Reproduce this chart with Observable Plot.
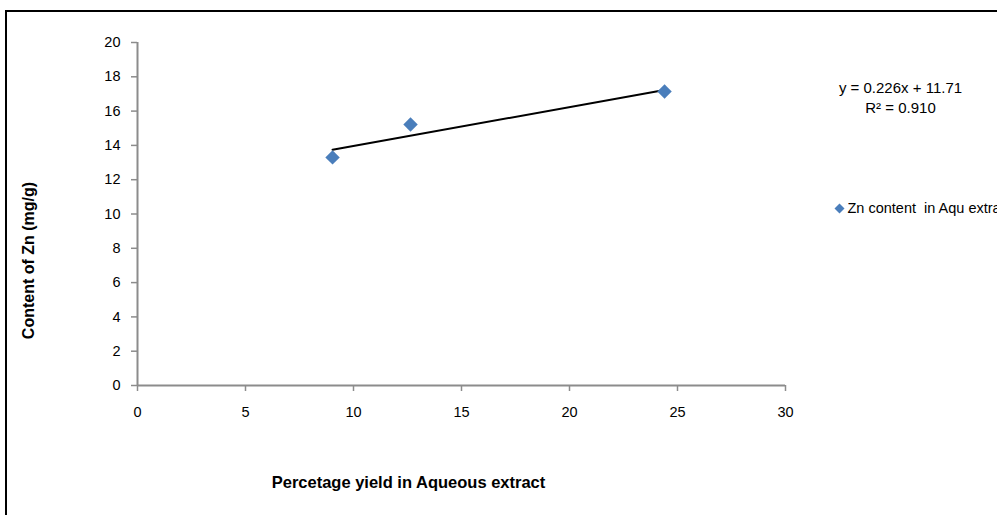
<!DOCTYPE html>
<html>
<head>
<meta charset="utf-8">
<script src="https://cdn.jsdelivr.net/npm/d3@7"></script>
<script src="https://cdn.jsdelivr.net/npm/@observablehq/plot@0.6"></script>
<style>
  html, body { margin: 0; padding: 0; background: #fff; }
  #wrap { position: relative; width: 997px; height: 515px; overflow: hidden; }
  #frame { position: absolute; left: 5px; top: 10px; width: 1200px; height: 700px; border: 2px solid #000; box-sizing: border-box; }
  #chart { position: absolute; left: 0; top: 0; }
  #chart svg g[aria-label$="tick label"] { font-size: 14.5px; }
</style>
</head>
<body>
<div id="wrap">
  <div id="frame"></div>
  <div id="chart"></div>
</div>
<script>
// Percentage yield of the aqueous extract vs. Zn content
const yieldPct = [9.03, 12.64, 24.4];
const znContent = [13.3, 15.22, 17.14];
const seriesName = "Zn content  in Aqu extract";

// Linear trend line as reported on the chart
const slope = 0.226;
const intercept = 11.71;
const rSquared = 0.910;

const xTicks = [0, 5, 10, 15, 20, 25, 30];
const yTicks = [0, 2, 4, 6, 8, 10, 12, 14, 16, 18, 20];

const points = yieldPct.map((x, i) => ({x, y: znContent[i]}));
const xExtent = d3.extent(yieldPct);
const trend = xExtent.map(x => ({x, y: slope * x + intercept}));

const blue = "#4a7ebb";
const axisGray = "#8c8c8c";
const font = "'Liberation Sans', Arial, sans-serif";

const chart = Plot.plot({
  width: 997,
  height: 515,
  marginLeft: 137,
  marginRight: 212,
  marginTop: 42,
  marginBottom: 130,
  style: {fontFamily: font, fontSize: "14px", background: "transparent", color: "#000", overflow: "visible"},
  x: {domain: [0, 30]},
  y: {domain: [0, 20]},
  marks: [
    Plot.axisX({ticks: xTicks, tickSize: 6, tickPadding: 15, stroke: axisGray, strokeWidth: 1.5, fill: "#000", label: null}),
    Plot.axisY({ticks: yTicks, tickSize: 6, tickPadding: 11, stroke: axisGray, strokeWidth: 1.5, fill: "#000", label: null}),
    Plot.ruleY([0], {stroke: axisGray, strokeWidth: 2}),
    Plot.ruleX([0], {stroke: axisGray, strokeWidth: 2}),
    Plot.line(trend, {x: "x", y: "y", stroke: "#000", strokeWidth: 2}),
    Plot.dot(points, {x: "x", y: "y", symbol: "diamond2", r: 6.5, fill: blue, stroke: null}),
    // trend line equation
    Plot.text([`y = ${slope}x + ${intercept}`], {frameAnchor: "top-right", dx: 115, dy: 45.5, textAnchor: "middle", lineAnchor: "middle", fontSize: 15}),
    Plot.text([`R² = ${rSquared.toFixed(3)}`], {frameAnchor: "top-right", dx: 115, dy: 66, textAnchor: "middle", lineAnchor: "middle", fontSize: 15}),
    // legend
    Plot.dot([seriesName], {frameAnchor: "top-right", dx: 54, dy: 166, symbol: "diamond2", r: 4.5, fill: blue, stroke: null}),
    Plot.text([seriesName], {frameAnchor: "top-right", dx: 62, dy: 166, textAnchor: "start", lineAnchor: "middle", fontSize: 14.5}),
    // axis titles
    Plot.text(["Content of Zn (mg/g)"], {frameAnchor: "top-left", dx: -109, dy: 218, rotate: -90, textAnchor: "middle", lineAnchor: "middle", fontSize: 16, fontWeight: "bold"}),
    Plot.text(["Percetage yield in Aqueous extract"], {frameAnchor: "bottom", dx: -53, dy: 97, textAnchor: "middle", lineAnchor: "middle", fontSize: 16.5, fontWeight: "bold"})
  ]
});

document.getElementById("chart").appendChild(chart);
</script>
</body>
</html>
